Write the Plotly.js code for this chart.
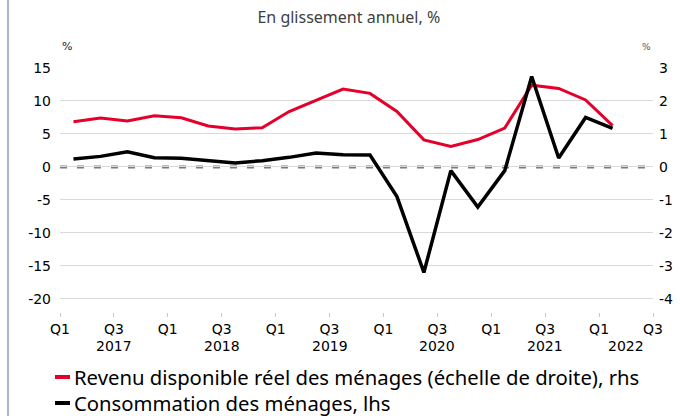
<!DOCTYPE html>
<html>
<head>
<meta charset="utf-8">
<script src="https://cdn.plot.ly/plotly-3.0.1.min.js"></script>
<style>html,body{margin:0;padding:0;background:#fff;}#chart{width:680px;height:416px;}</style>
</head>
<body>
<div id="chart"></div>
<script>
// Quarters 2017 Q1 .. 2022 Q1
var quarters = ["2017 Q1","2017 Q2","2017 Q3","2017 Q4","2018 Q1","2018 Q2","2018 Q3","2018 Q4",
  "2019 Q1","2019 Q2","2019 Q3","2019 Q4","2020 Q1","2020 Q2","2020 Q3","2020 Q4",
  "2021 Q1","2021 Q2","2021 Q3","2021 Q4","2022 Q1"];
// Real disposable household income, y/y %, right-hand scale
var revenu = [1.37, 1.48, 1.39, 1.55, 1.49, 1.24, 1.15, 1.19, 1.68, 2.01, 2.36, 2.23,
  1.68, 0.82, 0.62, 0.83, 1.18, 2.48, 2.38, 2.03, 1.25];
// Household consumption, y/y %, left-hand scale
var consommation = [1.2, 1.6, 2.3, 1.4, 1.3, 0.9, 0.6, 0.95, 1.45, 2.1, 1.85, 1.8,
  -4.5, -16.0, -0.56, -6.1, -0.56, 13.7, 1.35, 7.5, 5.85];
var tickLabels = ["Q1","Q3","Q1","Q3","Q1","Q3","Q1","Q3","Q1","Q3","Q1","Q3"];
var years = ["2017","2018","2019","2020","2021","2022"];
var leftTicks = [-20, -15, -10, -5, 0, 5, 10, 15];
var rightTicks = [-4, -3, -2, -1, 0, 1, 2, 3];
var seriesNames = ["Revenu disponible réel des ménages (échelle de droite), rhs", "Consommation des ménages, lhs"];
var seriesColors = ["#e4002b", "#000000"];

var firstYear = 2017;
function qpos(label) {
  var y = parseInt(label.slice(0,4),10), q = parseInt(label.slice(6),10);
  return (y - firstYear) * 4 + (q - 1) + 0.5;
}
var xs = quarters.map(qpos);
var nTicks = tickLabels.length;
var tickVals = tickLabels.map(function(_, i){ return i * 2; });
var xMax = tickVals[nTicks - 1];

var W = 680, H = 416;
var M = {l: 60, r: 27, t: 68, b: 104};
var plotW = W - M.l - M.r, plotH = H - M.t - M.b;
function px2paperX(px){ return (px - M.l) / plotW; }
function px2paperY(py){ return (H - M.b - py) / plotH; }
function txt(v){ return String(v); } // plain hyphen minus

var tickFont = {family: "DejaVu Sans", size: 14, color: "#000"};

var traces = [
  {x: xs, y: revenu, name: seriesNames[0], type: "scatter", mode: "lines",
   line: {color: seriesColors[0], width: 3}, yaxis: "y", hoverinfo: "skip"},
  {x: xs, y: consommation, name: seriesNames[1], type: "scatter", mode: "lines",
   line: {color: seriesColors[1], width: 3.5}, yaxis: "y2", hoverinfo: "skip"}
];

var annotations = years.map(function(yr, i){
  var start = i * 4, end = Math.min(start + 4, xMax);
  return {x: (start + end) / 2, xref: "x", y: 0, yref: "paper", yshift: -34,
    text: yr, showarrow: false, font: tickFont, xanchor: "center", yanchor: "middle"};
});
annotations.push({x: 0, xref: "paper", xanchor: "left", xshift: 0, y: 1, yref: "paper", yanchor: "middle", yshift: 22,
  text: "%", showarrow: false, font: {family: "DejaVu Sans", size: 11, color: "#222"}});
annotations.push({x: 1, xref: "paper", xanchor: "right", xshift: 0, y: 1, yref: "paper", yanchor: "middle", yshift: 21,
  text: "%", showarrow: false, font: {family: "DejaVu Sans", size: 9, color: "#555"}});

var shapes = [
  {type: "line", xref: "paper", x0: 0, x1: 1, yref: "y", y0: 0, y1: 0, layer: "between",
   line: {color: "#7a7a7a", width: 3, dash: "7px,10px"}},
  {type: "line", xref: "paper", x0: px2paperX(8), x1: px2paperX(8), yref: "paper", y0: -0.5, y1: 1.5,
   line: {color: "#8c9bd0", width: 1.5}}
];

// Custom legend (short swatches as in the reference)
var legendRows = [377, 403];
seriesNames.forEach(function(name, i){
  var yp = px2paperY(legendRows[i]);
  shapes.push({type: "line", xref: "paper", yref: "paper", x0: px2paperX(55), x1: px2paperX(70), y0: yp, y1: yp,
    line: {color: seriesColors[i], width: 4}});
  annotations.push({x: px2paperX(72), xref: "paper", xanchor: "left", y: yp, yref: "paper", yanchor: "middle",
    text: name, showarrow: false, font: {family: "Noto Sans", size: 20.3, color: "#000"}});
});

var layout = {
  width: W, height: H,
  margin: {l: M.l, r: M.r, t: M.t, b: M.b, autoexpand: false},
  paper_bgcolor: "#fff", plot_bgcolor: "#fff",
  title: {text: "En glissement annuel, %", x: 0.513, xref: "container", xanchor: "center",
    y: 0.957, yref: "container", yanchor: "middle",
    font: {family: "Noto Sans", size: 16, color: "#404040"}},
  xaxis: {type: "linear", range: [0, xMax], tickmode: "array", tickvals: tickVals, ticktext: tickLabels,
    ticks: "outside", ticklen: 4, tickcolor: "#c8c8c8", tickwidth: 1,
    showgrid: false, zeroline: false, showline: false, tickfont: tickFont, fixedrange: true},
  yaxis: {range: [-4.4, 3], side: "right", tickmode: "array", tickvals: rightTicks, ticktext: rightTicks.map(txt),
    showgrid: true, gridcolor: "#d9d9d9", gridwidth: 1, zeroline: false, showline: false,
    ticks: "", tickfont: tickFont, ticklabelstandoff: 5},
  yaxis2: {range: [-22, 15], overlaying: "y", side: "left", tickmode: "array", tickvals: leftTicks, ticktext: leftTicks.map(txt),
    showgrid: false, zeroline: false, showline: false, ticks: "", tickfont: tickFont, ticklabelstandoff: 8},
  shapes: shapes,
  annotations: annotations,
  showlegend: false
};

Plotly.newPlot("chart", traces, layout, {staticPlot: true, displayModeBar: false});
</script>
</body>
</html>
